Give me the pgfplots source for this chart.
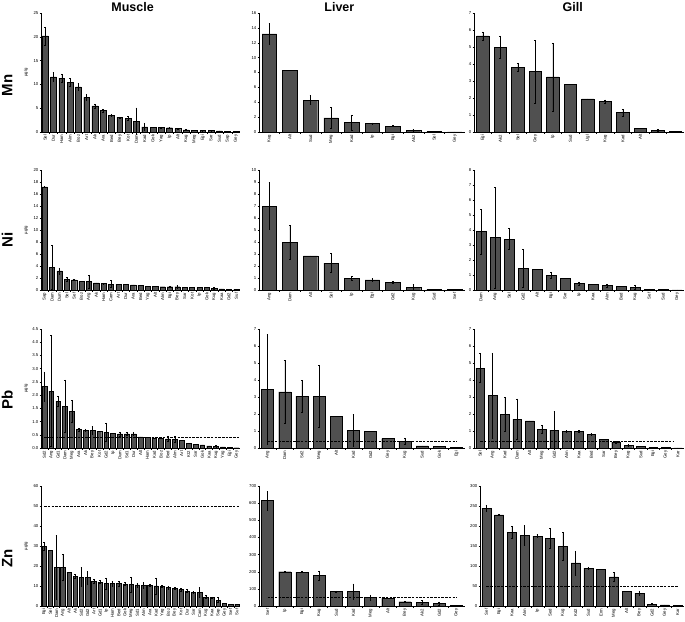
\documentclass[border=0pt]{standalone}
\usepackage{fontspec}
\setmainfont{Liberation Sans}
\usepackage{pgfplots}
\usepackage{pgfplotstable}
\pgfplotsset{compat=1.18}
\definecolor{barc}{RGB}{80,80,80}
\newcommand\tk{\fontsize{4.3}{4.8}\selectfont}
\newcommand\ttl{\fontsize{12.5}{13}\selectfont\bfseries}
\newcommand\rowf{\fontsize{15}{15}\selectfont\bfseries}

% ---------------- data ----------------
\pgfplotstableread{
lab v e
Sel 20.2 1.9
Dur 11.6 1.0
Ham 11.3 0.9
Alm 10.5 0.8
Boz 9.5 0.7
Art 7.3 0.6
Ak 5.5 0.4
Ara 4.5 0.3
Bed 3.5 0.2
Bey 3.1 0.1
Kot 2.9 0.4
Dam 2.3 2.8
Kad 1.1 0.8
Gok 1.0 0.05
Yag 1.0 0.1
Ip 0.9 0.1
Alt 0.7 0.05
Kug 0.45 0.05
Meg 0.35 0.03
Egi 0.3 0.03
Sar 0.3 0.02
Sud 0.25 0.02
Sap 0.15 0.02
Gey 0.1 0.01
}\tMnM
\pgfplotstableread{
lab v e
Kug 13.2 1.4
Alt 8.3 0
Sud 4.3 0.6
Meg 1.9 1.4
Kad 1.3 1.0
Ip 1.15 0.1
Egi 0.8 0.05
Ak2 0.25 0.15
Sel 0.1 0.02
Gey 0.02 0
}\tMnL
\pgfplotstableread{
lab v e
Egi 5.65 0.25
Ak2 5.0 0.65
Sel 3.8 0.25
Gey 3.55 1.85
Ip 3.25 2.0
Sud 2.8 0
Ugl 1.95 0
Kug 1.8 0.1
Kad 1.15 0.2
Alt 0.2 0
{} 0.1 0.05
{} 0.03 0
}\tMnG
\pgfplotstableread{
lab v e
Sap 17.2 0.1
Dam 3.8 3.6
Dum 3.2 0.5
Sel 1.8 0.3
Sef 1.7 0.05
Boz 1.4 0
Ang 1.4 1.1
Ak 1.2 0
Ham 1.1 0.05
Cam 1.0 0.6
Art 0.95 0
Dur 0.9 0
Ara 0.85 0
Bed 0.8 0
Yag 0.65 0
Alt 0.6 0
Alm 0.55 0
Egi 0.55 0.05
Bey 0.55 0.2
Sar 0.5 0
Kot 0.45 0
Ip 0.45 0
Gok 0.4 0
Kug 0.3 0.2
Kaa 0.2 0
Gd2 0.15 0
Suf 0.1 0
}\tNiM
\pgfplotstableread{
lab v e
Ang 7.0 1.95
Dam 4.0 1.4
Alt 2.85 0
Sel 2.25 0.8
Ip 1.0 0.15
Egi 0.85 0.1
Gd2 0.65 0.05
Kug 0.2 0.25
Sud 0.07 0
Sef 0.05 0
}\tNiL
\pgfplotstableread{
lab v e
Dam 3.9 1.5
Ang 3.5 3.35
Sel 3.4 0.7
Gd2 1.45 1.25
Alt 1.4 0
Egi 1.0 0.2
Sar 0.8 0
Ip 0.45 0.1
Kaa 0.4 0
Alm 0.3 0.1
Bed 0.25 0
Kug 0.2 0.15
Sef 0.05 0.02
Sud 0.05 0
Gey 0.01 0
}\tNiG
\pgfplotstableread{
lab v e
Sd2 2.33 0.55
Ang 2.15 2.1
Gd1 1.77 0.18
Dam 1.58 1.0
Meg 1.38 0.42
Ara 0.70 0.05
Ak 0.67 0.05
Bey 0.67 0.15
Kot 0.63 0
Gd2 0.60 0.35
Ip 0.55 0
Dum 0.53 0.08
Sd1 0.53 0.05
Dur 0.53 0.05
Alt 0.42 0
Ham 0.40 0
Kad 0.38 0
Boz 0.37 0
Bed 0.35 0.08
Alm 0.33 0.12
Art 0.30 0
Kt2 0.17 0
Sar 0.15 0
Gok 0.12 0
Kaa 0.08 0
Kug 0.06 0.05
Yag 0.04 0
Egi 0.02 0
Gey 0.01 0
}\tPbM
\pgfplotstableread{
lab v e
Ang 3.45 3.25
Dam 3.3 1.85
Sd2 3.05 0.95
Meg 3.05 1.8
Alt 1.85 0
Kad 1.05 0.95
Gd2 1.0 0
Gey 0.55 0
Kug 0.4 0.2
Sud 0.12 0
Gok 0.1 0
Egi 0.02 0
}\tPbL
\pgfplotstableread{
lab v e
Sel 4.7 0.85
Ang 3.1 2.5
Kad 2.0 1.0
Dam 1.7 1.2
Alt 1.6 0
Meg 1.1 0.25
Gd2 1.05 1.1
Alm 1.0 0.05
Kaa 1.0 0.05
Bed 0.8 0.05
Sar 0.5 0
Bey 0.35 0.05
Kug 0.15 0.05
Sud 0.1 0
Egi 0.05 0
Gey 0.02 0
Kar 0.01 0
}\tPbG
\pgfplotstableread{
lab v e
Egi 30.0 2.0
Sel 27.8 0
Dam 19.5 16.0
Ang 19.2 6.5
Alt 17.0 0
Ak 14.7 1.0
Sd2 14.5 4.8
Gd2 14.2 3.2
Art 12.2 1.0
Gd1 12.0 0.8
Ip 11.3 2.8
Ham 11.3 1.3
Bed 11.2 1.3
Gok 11.0 0.8
Meg 10.8 3.7
Sd1 10.6 1.0
Alm 10.4 1.5
Ara 10.3 0.6
Kad 10.1 4.0
Yag 9.9 0.6
Boz 9.3 0.8
Bey 8.8 0.4
Kot 8.2 0.8
Dur 7.5 0.8
Sar 7.0 0.4
Cam 7.0 2.5
Kug 4.5 0.8
Kaa 4.2 0.4
Sap 3.0 1.2
Gey 1.5 0
Sef 0.7 0
Suf 0.9 0
}\tZnM
\pgfplotstableread{
lab v e
Sef 615 55
Ip 200 5
Egi 198 3
Kug 177 28
Sud 85 3
Kad 85 45
Meg 50 15
Alt 45 0
Bey 25 5
Ak2 22 10
Gd2 15 10
Gey 5 0
}\tZnL
\pgfplotstableread{
lab v e
Sef 245 8
Egi 228 2
Kaa 185 15
Alm 177 25
Ip 175 4
Sed 170 25
Kug 150 35
Kd2 108 30
Sud 95 3
Erm 92 0
Meg 73 12
Alt 36 0
Bey 32 6
Gd2 5 1
Gey 3 0
Kar 2 0
}\tZnG

\pgfplotsset{
  panel/.style={
    scale only axis, axis x line*=bottom, axis y line*=left,
    ymin=0, xmin=-0.5, clip=false,
    tick align=outside, major tick length=1.5pt, minor tick length=1.5pt,
    tick label style={font=\tk},
    /pgf/number format/assume math mode=true,
    xtick=data,
    x tick label style={rotate=90, anchor=east, inner sep=1pt},
    y tick label style={inner sep=1pt},
    major x tick style={draw=none}, minor x tick num=1,
    tick style={black, line width=0.4pt},
    axis line style={line width=0.5pt},
    ylabel style={font=\tk, at={(rel axis cs:-0.075,0.5)}, anchor=center},
    every axis title/.style={font=\ttl, anchor=south, inner sep=0pt, yshift=1.5pt},
  },
  bars/.style={ybar, bar width=0.7, bar shift=0pt, fill=barc, draw=black, line width=0.4pt,
    error bars/y dir=both, error bars/y explicit,
    error bars/error bar style={black, line width=0.45pt},
    error bars/error mark options={black, rotate=90, mark size=0.8pt, line width=0.4pt}},
  ref/.style={black, line width=0.5pt, dash pattern=on 2.5pt off 1.2pt},
}

\begin{document}
\begin{tikzpicture}
\useasboundingbox (0,0) rectangle (685pt,-621pt);

% ===== Row 1: Mn =====
\begin{axis}[panel, at={(41pt,-132pt)}, anchor=south west, width=199pt, height=119pt,
  xmax=23.5, ymax=25, ytick distance=5, ylabel={µg/g},
  xticklabels from table={\tMnM}{lab},
  title={Muscle}, title style={at={(0.46,1)}}]
\addplot[bars] table[x expr=\coordindex, y=v, y error=e]{\tMnM};
\node[rotate=90, font=\rowf] at (rel axis cs:-0.17,0.39) {Mn};
\end{axis}
\begin{axis}[panel, at={(259pt,-132pt)}, anchor=south west, width=206pt, height=119pt,
  xmax=9.5, ymax=16, ytick distance=2,
  xticklabels from table={\tMnL}{lab},
  title={Liver}, title style={at={(0.39,1)}}]
\addplot[bars] table[x expr=\coordindex, y=v, y error=e]{\tMnL};
\end{axis}
\begin{axis}[panel, at={(474pt,-132pt)}, anchor=south west, width=210pt, height=119pt,
  xmax=11.5, ymax=7, ytick distance=1,
  xticklabels from table={\tMnG}{lab},
  title={Gill}, title style={at={(0.47,1)}}]
\addplot[bars] table[x expr=\coordindex, y=v, y error=e]{\tMnG};
\end{axis}

% ===== Row 2: Ni =====
\begin{axis}[panel, at={(41pt,-290pt)}, anchor=south west, width=199pt, height=120pt,
  xmax=26.5, ymax=20, ytick distance=2, ylabel={µg/g},
  xticklabels from table={\tNiM}{lab}]
\addplot[bars] table[x expr=\coordindex, y=v, y error=e]{\tNiM};
\node[rotate=90, font=\rowf] at (rel axis cs:-0.17,0.42) {Ni};
\end{axis}
\begin{axis}[panel, at={(259pt,-290pt)}, anchor=south west, width=206pt, height=120pt,
  xmax=9.5, ymax=10, ytick distance=1,
  xticklabels from table={\tNiL}{lab}]
\addplot[bars] table[x expr=\coordindex, y=v, y error=e]{\tNiL};
\end{axis}
\begin{axis}[panel, at={(474pt,-290pt)}, anchor=south west, width=210pt, height=120pt,
  xmax=14.5, ymax=8, ytick distance=1,
  xticklabels from table={\tNiG}{lab}]
\addplot[bars] table[x expr=\coordindex, y=v, y error=e]{\tNiG};
\end{axis}

% ===== Row 3: Pb =====
\begin{axis}[panel, at={(41pt,-448pt)}, anchor=south west, width=199pt, height=119pt,
  xmax=28.5, ymax=4.5, ytick distance=0.5, ylabel={µg/g},
  yticklabel style={/pgf/number format/.cd, fixed, fixed zerofill, precision=1},
  xticklabels from table={\tPbM}{lab}]
\addplot[bars] table[x expr=\coordindex, y=v, y error=e]{\tPbM};
\addplot[ref] coordinates {(0,0.4) (28.5,0.4)};
\node[rotate=90, font=\rowf] at (rel axis cs:-0.17,0.40) {Pb};
\end{axis}
\begin{axis}[panel, at={(259pt,-448pt)}, anchor=south west, width=206pt, height=119pt,
  xmax=11.5, ymax=7, ytick distance=1,
  xticklabels from table={\tPbL}{lab}]
\addplot[bars] table[x expr=\coordindex, y=v, y error=e]{\tPbL};
\addplot[ref] coordinates {(0,0.4) (11,0.4)};
\end{axis}
\begin{axis}[panel, at={(474pt,-448pt)}, anchor=south west, width=210pt, height=119pt,
  xmax=16.5, ymax=7, ytick distance=1,
  xticklabels from table={\tPbG}{lab}]
\addplot[bars] table[x expr=\coordindex, y=v, y error=e]{\tPbG};
\addplot[ref] coordinates {(0,0.4) (15.6,0.4)};
\end{axis}

% ===== Row 4: Zn =====
\begin{axis}[panel, at={(41pt,-606pt)}, anchor=south west, width=199pt, height=120pt,
  xmax=31.5, ymax=60, ytick distance=10, ylabel={µg/g},
  xticklabels from table={\tZnM}{lab}]
\addplot[bars] table[x expr=\coordindex, y=v, y error=e]{\tZnM};
\addplot[ref] coordinates {(0,50) (31.5,50)};
\node[rotate=90, font=\rowf] at (rel axis cs:-0.17,0.40) {Zn};
\end{axis}
\begin{axis}[panel, at={(259pt,-606pt)}, anchor=south west, width=206pt, height=120pt,
  xmax=11.5, ymax=700, ytick distance=100,
  xticklabels from table={\tZnL}{lab}]
\addplot[bars] table[x expr=\coordindex, y=v, y error=e]{\tZnL};
\addplot[ref] coordinates {(0,50) (11,50)};
\end{axis}
\begin{axis}[panel, at={(480pt,-606pt)}, anchor=south west, width=204pt, height=120pt,
  xmax=15.5, ymax=300, ytick distance=50,
  xticklabels from table={\tZnG}{lab}]
\addplot[bars] table[x expr=\coordindex, y=v, y error=e]{\tZnG};
\addplot[ref] coordinates {(0,50) (15,50)};
\end{axis}
\end{tikzpicture}
\end{document}
